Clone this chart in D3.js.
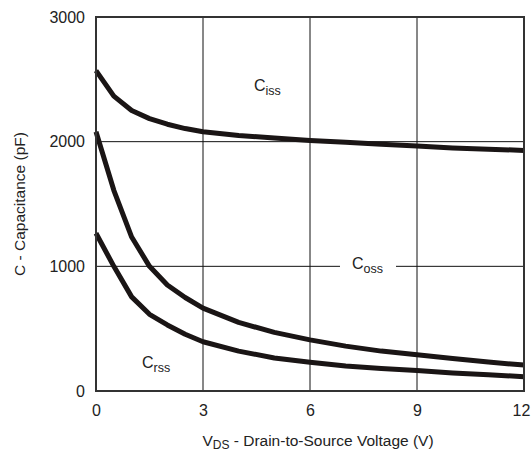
<!DOCTYPE html>
<html><head><meta charset="utf-8">
<script src="https://cdn.jsdelivr.net/npm/d3@7"></script>
<style>body{margin:0;background:#fff}svg{display:block}text{font-family:"Liberation Sans",Arial,sans-serif;fill:#222}</style>
</head><body>
<script>
const xTicks = [0, 3, 6, 9, 12];
const yTicks = [0, 1000, 2000, 3000];
const voltage = [0, 0.5, 1, 1.5, 2, 2.5, 3, 4, 5, 6, 7, 8, 9, 10, 11, 12];
const ciss = [2570, 2365, 2250, 2185, 2140, 2105, 2080, 2050, 2030, 2010, 1995, 1980, 1965, 1950, 1940, 1930];
const coss = [2080, 1610, 1235, 1000, 850, 750, 665, 550, 470, 410, 360, 320, 290, 260, 232, 208];
const crss = [1265, 1000, 755, 615, 530, 455, 395, 320, 265, 230, 200, 180, 165, 145, 130, 115];
const seriesNames = ["iss", "oss", "rss"];

const W = 532, H = 452;
const m = {left: 96, right: 8, top: 17, bottom: 61};
const svg = d3.select("body").append("svg").attr("width", W).attr("height", H);
const x = d3.scaleLinear().domain([0, 12]).range([m.left, W - m.right]);
const y = d3.scaleLinear().domain([0, 3000]).range([H - m.bottom, m.top]);
const FF = '"Liberation Sans",Arial,sans-serif';

// grid
const g = svg.append("g");
g.selectAll(".vg").data(xTicks.slice(1, -1)).join("line")
  .attr("x1", d => x(d)).attr("x2", d => x(d)).attr("y1", y(0)).attr("y2", y(3000))
  .attr("stroke", "#111").attr("stroke-width", 1);
g.selectAll(".hg").data(yTicks.slice(1, -1)).join("line")
  .attr("x1", x(0)).attr("x2", x(12)).attr("y1", d => y(d)).attr("y2", d => y(d))
  .attr("stroke", "#111").attr("stroke-width", 1);

// axes (labels only)
const xa = svg.append("g").attr("transform", `translate(0,${y(0)})`)
  .call(d3.axisBottom(x).tickValues(xTicks).tickSize(0).tickPadding(14));
const ya = svg.append("g").attr("transform", `translate(${x(0)},0)`)
  .call(d3.axisLeft(y).tickValues(yTicks).tickSize(0).tickPadding(11).tickFormat(d3.format("d")));
[xa, ya].forEach(a => { a.select(".domain").remove(); a.selectAll("text").attr("font-size", 16).attr("fill", "#222").style("font-family", FF); });
xa.selectAll("text").attr("dx", (d) => d === 12 ? -3 : 0);

// curves
const line = d3.line().x((d, i) => x(voltage[i])).y(d => y(d)).curve(d3.curveLinear);
[ciss, coss, crss].forEach(s => {
  svg.append("path").attr("d", line(s)).attr("fill", "none")
    .attr("stroke", "#1a1515").attr("stroke-width", 5).attr("stroke-linejoin", "round");
});

// Coss label background (gap in gridline)
svg.append("rect").attr("x", 340).attr("y", 255).attr("width", 56).attr("height", 20).attr("fill", "#fff");

function label(px, py, sub) {
  const t = svg.append("text").attr("x", px).attr("y", py).attr("font-size", 16);
  t.append("tspan").text("C");
  t.append("tspan").attr("font-size", 12.5).attr("dy", 4).text(sub);
}
label(254, 91, seriesNames[0]);
label(352, 269, seriesNames[1]);
label(142, 368, seriesNames[2]);

// frame
svg.append("rect").attr("x", x(0)).attr("y", y(3000)).attr("width", x(12) - x(0)).attr("height", y(0) - y(3000))
  .attr("fill", "none").attr("stroke", "#333").attr("stroke-width", 2);

// axis titles
const xt = svg.append("text").attr("x", 318).attr("y", 446).attr("text-anchor", "middle").attr("font-size", 15.5);
xt.append("tspan").text("V");
xt.append("tspan").attr("font-size", 12).attr("dy", 3).text("DS");
xt.append("tspan").attr("dy", -3).text(" - Drain-to-Source Voltage (V)");

svg.append("text").attr("transform", `translate(25,${(y(0) + y(3000)) / 2}) rotate(-90)`)
  .attr("text-anchor", "middle").attr("font-size", 15.5).text("C - Capacitance (pF)");
</script>
</body></html>
